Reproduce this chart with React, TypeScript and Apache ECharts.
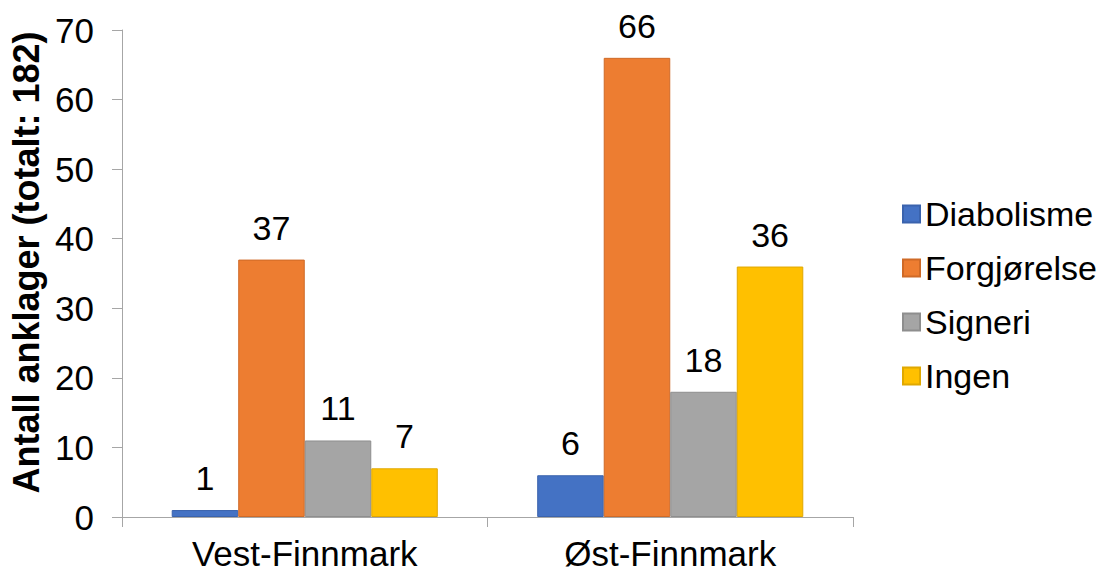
import React, { useEffect, useRef } from "react";
import * as echarts from "echarts";

const categories = ["Vest-Finnmark", "Øst-Finnmark"];
const seriesNames = ["Diabolisme", "Forgjørelse", "Signeri", "Ingen"];
const diabolisme = [1, 6];
const forgjorelse = [37, 66];
const signeri = [11, 18];
const ingen = [7, 36];
const colors = ["#4472C4", "#ED7D31", "#A5A5A5", "#FFC000"];
const borderColors = ["#3A63AD", "#CF6A27", "#8E8E8E", "#E0A800"];
const yAxisName = "Antall anklager (totalt: 182)";

const FONT = "'Liberation Sans', Arial, sans-serif";

export default function App() {
  const ref = useRef<HTMLDivElement>(null);
  useEffect(() => {
    if (!ref.current) return;
    const chart = echarts.init(ref.current, undefined, { renderer: "svg" });
    const values = [diabolisme, forgjorelse, signeri, ingen];
    chart.setOption({
      animation: false,
      backgroundColor: "#ffffff",
      textStyle: { fontFamily: FONT },
      grid: { left: 122, right: 248, top: 30, bottom: 55 },
      legend: {
        orient: "vertical",
        left: 897,
        top: 192,
        itemWidth: 17,
        itemHeight: 17,
        itemGap: 20,
        icon: "rect",
        data: seriesNames,
        textStyle: { fontSize: 34, color: "#000", fontFamily: FONT },
      },
      xAxis: {
        type: "category",
        data: categories,
        axisLine: { show: true, lineStyle: { color: "#A6A6A6", width: 1 } },
        axisTick: { show: true, length: 10, alignWithLabel: false, lineStyle: { color: "#A6A6A6" } },
        axisLabel: { fontSize: 35, color: "#000", margin: 19, fontFamily: FONT },
      },
      yAxis: {
        type: "value",
        min: 0,
        max: 70,
        interval: 10,
        name: yAxisName,
        nameLocation: "middle",
        nameRotate: 90,
        nameGap: 76,
        nameTextStyle: {
          fontSize: 36,
          fontWeight: "bold",
          color: "#000",
          fontFamily: FONT,
          padding: [0, 0, 0, 22],
        },
        axisLine: { show: true, lineStyle: { color: "#A6A6A6", width: 1 } },
        axisTick: { show: true, length: 10, lineStyle: { color: "#A6A6A6" } },
        splitLine: { show: false },
        axisLabel: { fontSize: 35, color: "#000", margin: 28, fontFamily: FONT },
      },
      series: seriesNames.map((name, i) => ({
        name,
        type: "bar",
        data: values[i],
        barGap: "0%",
        barCategoryGap: "27.2%",
        itemStyle: { color: colors[i], borderColor: borderColors[i], borderWidth: 1 },
        label: {
          show: true,
          position: "top",
          distance: 15,
          fontSize: 34,
          color: "#000",
          fontFamily: FONT,
        },
      })),
    });
    return () => chart.dispose();
  }, []);
  return (
    <div
      ref={ref}
      style={{ position: "fixed", left: 0, top: 0, width: 1101, height: 572, background: "#fff" }}
    />
  );
}
